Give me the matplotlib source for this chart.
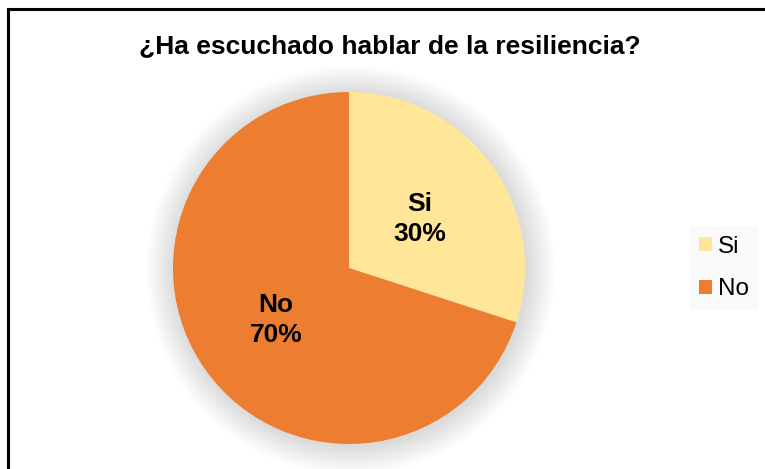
import numpy as np
import matplotlib.pyplot as plt
from matplotlib.patches import Rectangle, Circle, Patch

plt.rcParams['font.family'] = ['Liberation Sans', 'DejaVu Sans']

# Data
categories = ['Si', 'No']
values = [30, 70]
colors = ['#FFE699', '#ED7D31']
title = '¿Ha escuchado hablar de la resiliencia?'

W, H = 765, 469
fig = plt.figure(figsize=(W / 100, H / 100), dpi=100)

# outer chart border (runs past the right and bottom edges)
fig.patches.append(Rectangle((8 / W, -0.1), 1.2, 1 - 9 / H + 0.1, transform=fig.transFigure,
                             fill=False, edgecolor='black', linewidth=2.2))

# pie axes: center (349, 268) px, radius 176 px
cx, cy, r = 349, 268, 176
ax = fig.add_axes([(cx - r) / W, (H - cy - r) / H, 2 * r / W, 2 * r / H])

# soft shadow around the pie
n = 18
for i in range(n):
    ax.add_patch(Circle((0.01, -0.01), 1.0 + 0.009 * (n - i), color='#000000',
                        alpha=0.007, linewidth=0, zorder=0, clip_on=False))

wedges, texts = ax.pie(values, colors=colors, startangle=90, counterclock=False,
                       radius=1.0, wedgeprops=dict(linewidth=0))
for w in wedges:
    w.set_zorder(2)
    w.set_clip_on(False)

label_pos = [(420, 219), (276, 320)]
for w, cat, val, (px, py) in zip(wedges, categories, values, label_pos):
    ax.text((px - cx) / r, (cy - py) / r, f'{cat}\n{val}%', ha='center', va='center',
            fontsize=19, fontweight='bold', color='black', linespacing=1.3, zorder=3)

ax.set_xlim(-1, 1)
ax.set_ylim(-1, 1)
ax.set_aspect('equal')
ax.axis('off')

fig.text(390 / W, 1 - 46 / H, title, ha='center', va='center', fontsize=19, fontweight='bold')

handles = [Patch(facecolor=c, edgecolor='none') for c in colors]
leg = fig.legend(handles, categories, loc='center', bbox_to_anchor=(724 / W, 1 - 268 / H),
                 frameon=True, fontsize=17.5, handlelength=0.5, handleheight=0.5,
                 handletextpad=0.25, labelspacing=0.85, borderpad=0.4, borderaxespad=0,
                 fancybox=False)
leg.get_frame().set_facecolor('#F9F9F9')
leg.get_frame().set_edgecolor('none')

fig.savefig('out.png', dpi=100)
